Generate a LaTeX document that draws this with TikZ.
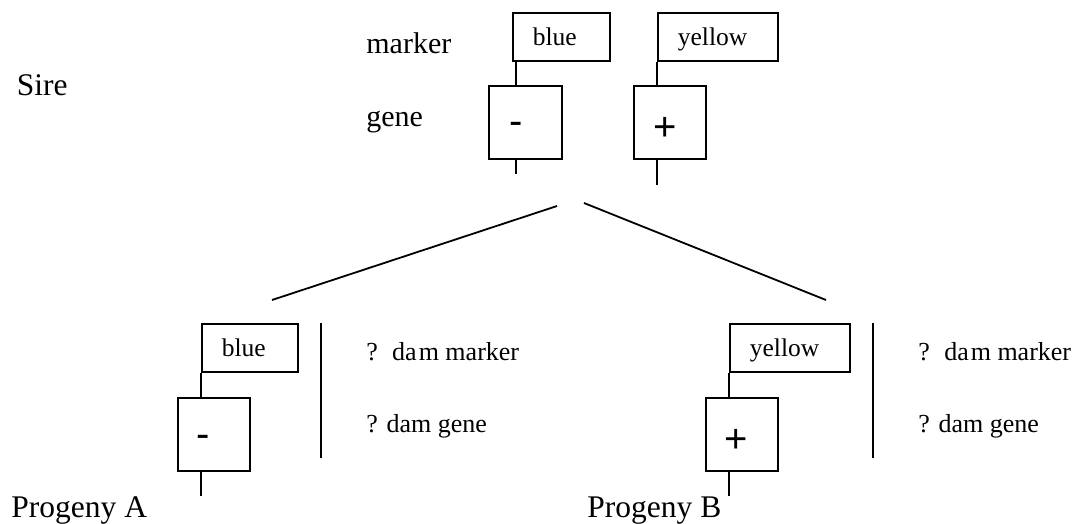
\documentclass[tikz,border=0pt]{standalone}
\usepackage{fontspec}
\setmainfont{Liberation Serif}
\newfontfamily\arialfont{Liberation Sans}
\begin{document}
\begin{tikzpicture}[x=1pt,y=-1pt,line width=1.8pt,
  lbl/.style={anchor=base west,inner sep=0pt,font=\fontsize{30}{36}\selectfont},
  big/.style={anchor=base west,inner sep=0pt,font=\fontsize{31.5}{38}\selectfont},
  dam/.style={anchor=base west,inner sep=0pt,font=\fontsize{26}{31}\selectfont},
  markbox/.style={draw,anchor=north west,inner xsep=20pt,inner ysep=0pt,align=left,
    minimum height=48pt,text height=18pt,text depth=0pt,font=\fontsize{25.5}{30}\selectfont},
  genebox/.style={draw,anchor=north west,minimum height=73pt,inner sep=0pt},
  sign/.style={anchor=base,inner sep=0pt,font=\arialfont\fontsize{40}{48}\selectfont},
  sepline/.style={line width=2pt}]
\useasboundingbox (0,0) rectangle (1073,523);

% left labels
\node[big] (sire) at (16,95) {Sire};
\node[lbl] (marker) at (365.5,53) {marker};
\node[lbl] (gene) at (365.5,126) {gene};

% sire chromosomes
\node[markbox,text width=57pt] (mb1) at (512,12) {blue};
\node[genebox,minimum width=73pt] (g1) at (488,85) {};
\node[sign] (s1) at (515.7,134.7) {-};
\node[markbox,text width=80pt] (mb2) at (657,12) {yellow};
\node[genebox,minimum width=72pt] (g2) at (633,85) {};
\node[sign] (s2) at (665,140.7) {+};

\coordinate (c1) at ([xshift=4pt]mb1.south west);
\draw (c1) -- (c1 |- g1.north);
\coordinate (t1) at ([yshift=-14pt]c1 |- g1.south);
\draw (c1 |- g1.south) -- (t1);
\draw (mb2.south west) -- (mb2.south west |- g2.north);
\coordinate (t2) at ([yshift=-25pt]mb2.south west |- g2.south);
\draw (mb2.south west |- g2.south) -- (t2);

% split lines
\coordinate (apL) at (557,206);
\coordinate (endL) at (272,300);
\coordinate (apR) at (584,203);
\coordinate (endR) at (826,300);
\draw (apL) -- (endL);
\draw (apR) -- (endR);

% progeny A
\node[markbox,text width=56pt] (mb3) at (201,323) {blue};
\node[genebox,minimum width=72pt] (g3) at (177,397) {};
\node[sign] (s3) at (203,447.4) {-};
\draw (mb3.south west) -- (mb3.south west |- g3.north);
\coordinate (t3) at ([yshift=-24pt]mb3.south west |- g3.south);
\draw (mb3.south west |- g3.south) -- (t3);
\coordinate (vA1) at (321,323);
\coordinate (vA2) at (321,458);
\draw[sepline] (vA1) -- (vA2);
\node[dam] (dmA) at (365.5,360) {?\hspace{0.55em}da\kern2pt m marker};
\node[dam] (dgA) at (365.5,432) {? dam gene};
\node[big] (pA) at (10.5,517) {Progeny A};

% progeny B
\node[markbox,text width=80pt] (mb4) at (729,323) {yellow};
\node[genebox,minimum width=72pt] (g4) at (705,397) {};
\node[sign] (s4) at (736,452) {+};
\draw (mb4.south west) -- (mb4.south west |- g4.north);
\coordinate (t4) at ([yshift=-24pt]mb4.south west |- g4.south);
\draw (mb4.south west |- g4.south) -- (t4);
\coordinate (vB1) at (873,323);
\coordinate (vB2) at (873,458);
\draw[sepline] (vB1) -- (vB2);
\node[dam] (dmB) at (917.5,360) {?\hspace{0.55em}da\kern2pt m marker};
\node[dam] (dgB) at (917.5,432) {? dam gene};
\node[big] (pB) at (586.5,517) {Progeny B};
\end{tikzpicture}
\end{document}
